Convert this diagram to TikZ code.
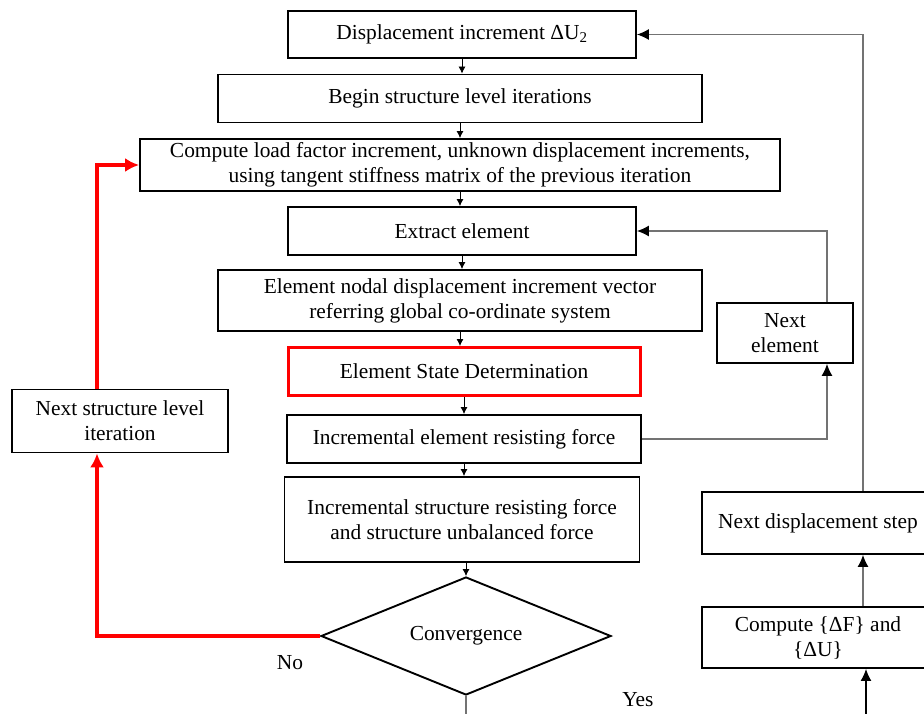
\documentclass[tikz,border=0pt]{standalone}
\usepackage{fontspec}
\setmainfont{Liberation Serif}
\usetikzlibrary{shapes.geometric,arrows.meta,calc}
\begin{document}
\begin{tikzpicture}[x=1pt,y=-1pt,
  txt/.style={font=\fontsize{21.4}{25}\selectfont},
  box/.style={txt,draw=black,line width=1.9pt,fill=white,inner sep=0pt,align=center},
  redbox/.style={box,draw=red,line width=3pt},
  small/.style={draw=black,line width=0.8pt,-{Latex[length=7pt,width=7pt]}},
  fb/.style={draw=black!55,line width=1.1pt,-{Latex[length=12pt,width=11pt,black]}},
  fbk/.style={draw=black,line width=1.3pt,-{Latex[length=12pt,width=11pt,black]}},
  redarrow/.style={draw=red,line width=4pt,-{Latex[length=14pt,width=14pt]}},
  redline/.style={draw=red,line width=4pt}]
\useasboundingbox (0,0) rectangle (924,713);
\clip (0,0) rectangle (924,713);

\node[box,minimum width=348pt,minimum height=47pt] (d1) at (462,34.5) {Displacement increment ΔU\textsubscript{2}};
\node[box,minimum width=484pt,minimum height=48pt] (d2) at (460,98.5) {Begin structure level iterations};
\node[box,minimum width=640pt,minimum height=52pt] (d3) at (460,165) {Compute load factor increment, unknown displacement increments,\\using tangent stiffness matrix of the previous iteration};
\node[box,minimum width=348pt,minimum height=48pt] (d4) at (462,231) {Extract element};
\node[box,minimum width=484pt,minimum height=61pt] (d5) at (460,300.5) {Element nodal displacement increment vector\\referring global co-ordinate system};
\node[redbox,minimum width=352pt,minimum height=48pt] (d6) at (464,371.5) {Element State Determination};
\node[box,minimum width=354pt,minimum height=48pt] (d7) at (464,439) {Incremental element resisting force};
\node[box,minimum width=355pt,minimum height=85pt] (d8) at (462,519.5) {Incremental structure resisting force\\and structure unbalanced force};
\node[txt,draw=black,line width=1.9pt,fill=white,diamond,aspect=2.46,inner sep=0pt,minimum width=290pt,minimum height=118pt] (dia) at (466,636) {Convergence};

\node[box,minimum width=216pt,minimum height=63pt] (ns) at (120,421) {Next structure level\\iteration};
\node[box,minimum width=136pt,minimum height=60pt] (ne) at (785,333) {Next\\element};
\node[box,minimum width=232pt,minimum height=62pt] (nd) at (818,523) {Next displacement step};
\node[box,minimum width=232pt,minimum height=61pt] (cf) at (818,637.5) {Compute \{ΔF\} and\\\{ΔU\}};

\node[txt] (no) at (290,663) {No};
\node[txt] (yes) at (638,700) {Yes};

\coordinate (bot) at (866,725);
\coordinate (dbot) at (466,725);

% main chain
\draw[small] (d1.south) -- (d1.south |- d2.north);
\draw[small] (d2.south) -- (d2.south |- d3.north);
\draw[small] (d3.south) -- (d3.south |- d4.north);
\draw[small] (d4.south) -- (d4.south |- d5.north);
\draw[small] (d5.south) -- (d5.south |- d6.north);
\draw[small] (d6.south) -- (d6.south |- d7.north);
\draw[small] (d7.south) -- (d7.south |- d8.north);
\draw[small] (d8.south -| dia.north) -- (dia.north);
\draw[draw=black!55,line width=1.1pt] (dia.south) -- (dbot);

% red loop
\draw[redarrow] (dia.west) -| ([xshift=-23pt]ns.south);
\draw[redarrow] ([xshift=-23pt]ns.north) |- (d3.west);

% element loop
\draw[fb] (d7.east) -| ([xshift=42pt]ne.south);
\draw[fb] ([xshift=42pt]ne.north) |- (d4.east);

% displacement loop
\draw[fbk] (bot) -- ([xshift=48pt]cf.south);
\draw[fb] ([xshift=45pt]cf.north) -- ([xshift=45pt]nd.south);
\draw[fb] ([xshift=45pt]nd.north) |- (d1.east);
\end{tikzpicture}
\end{document}
